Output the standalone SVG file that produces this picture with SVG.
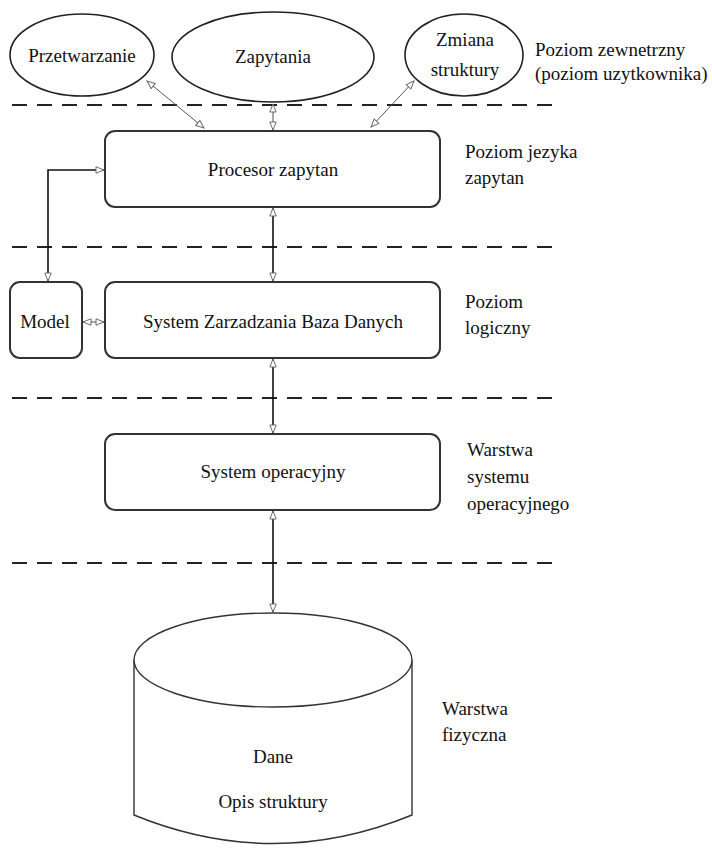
<svg xmlns="http://www.w3.org/2000/svg" width="712" height="852" viewBox="0 0 712 852" font-family="'Liberation Serif', 'DejaVu Serif', serif">
  <style>
    .shape { fill: #ffffff; stroke: #333333; stroke-width: 2; }
    .oval { fill: #ffffff; stroke: #222222; stroke-width: 1.6; }
    .thin { fill: #ffffff; stroke: #333333; stroke-width: 1.4; }
    .sep { stroke: #222222; stroke-width: 2; stroke-dasharray: 15 10; fill: none; }
    .conn { stroke: #111111; stroke-width: 1.6; fill: none; marker-start: url(#head); marker-end: url(#head); }
    .connthin { stroke: #555555; stroke-width: 1; fill: none; marker-start: url(#head); marker-end: url(#head); }
    text { font-family: 'Liberation Serif', 'DejaVu Serif', serif; font-size: 19px; fill: #111111; }
    .c { text-anchor: middle; }
  </style>
  <defs>
    <marker id="head" viewBox="0 0 10 10" refX="10" refY="5" markerWidth="10" markerHeight="8" markerUnits="userSpaceOnUse" orient="auto-start-reverse">
      <path d="M0,1 L10,5 L0,9 Z" fill="#ffffff" stroke="#666666" stroke-width="1.2"/>
    </marker>
  </defs>

  <!-- layer separators -->
  <g id="separators">
    <line class="sep" x1="12" y1="105" x2="553" y2="105"/>
    <line class="sep" x1="12" y1="247" x2="553" y2="247"/>
    <line class="sep" x1="12" y1="398" x2="553" y2="398"/>
    <line class="sep" x1="12" y1="563" x2="553" y2="563"/>
  </g>

  <!-- connectors -->
  <g id="connectors">
    <line class="connthin" x1="147" y1="81" x2="204" y2="128"/>
    <line class="connthin" x1="273" y1="104" x2="273" y2="130"/>
    <line class="connthin" x1="414" y1="81" x2="371" y2="127"/>
    <line class="conn" x1="273" y1="208" x2="273" y2="281"/>
    <line class="conn" x1="273" y1="359" x2="273" y2="433"/>
    <line class="conn" x1="273" y1="511" x2="273" y2="612"/>
    <polyline class="conn" points="48,281 48,170 104,170"/>
    <line class="connthin" x1="83" y1="322" x2="104" y2="322"/>
  </g>

  <!-- external level -->
  <g id="przetwarzanie">
    <ellipse class="oval" cx="82" cy="55" rx="72" ry="41"/>
    <text class="c" x="82" y="62">Przetwarzanie</text>
  </g>
  <g id="zapytania">
    <ellipse class="oval" cx="273" cy="57" rx="101" ry="45"/>
    <text class="c" x="273" y="63">Zapytania</text>
  </g>
  <g id="zmiana-struktury">
    <ellipse class="oval" cx="464" cy="55" rx="59" ry="41"/>
    <text class="c" x="465" y="46">Zmiana</text>
    <text class="c" x="465" y="76">struktury</text>
  </g>

  <g id="procesor">
    <rect class="shape" x="105" y="131" width="335" height="76" rx="10"/>
    <text class="c" x="273" y="176">Procesor zapytan</text>
  </g>
  <g id="szbd">
    <rect class="shape" x="105" y="282" width="335" height="76" rx="10"/>
    <text class="c" x="273" y="328">System Zarzadzania Baza Danych</text>
  </g>
  <g id="model">
    <rect class="shape" x="10" y="282" width="72" height="76" rx="10"/>
    <text class="c" x="45" y="328">Model</text>
  </g>
  <g id="system-operacyjny">
    <rect class="shape" x="105" y="434" width="335" height="76" rx="10"/>
    <text class="c" x="273" y="478">System operacyjny</text>
  </g>

  <g id="dane">
    <path class="thin" d="M134,660 L134,815 Q273,872 412,815 L412,660"/>
    <ellipse class="thin" cx="273" cy="660" rx="139" ry="47"/>
    <text class="c" x="273" y="763">Dane</text>
    <text class="c" x="273" y="808">Opis struktury</text>
  </g>

  <!-- level labels -->
  <g id="labels">
    <text x="535" y="56">Poziom zewnetrzny</text>
    <text x="535" y="80">(poziom uzytkownika)</text>
    <text x="465" y="158">Poziom jezyka</text>
    <text x="465" y="184">zapytan</text>
    <text x="465" y="308">Poziom</text>
    <text x="465" y="334">logiczny</text>
    <text x="467" y="456">Warstwa</text>
    <text x="467" y="483">systemu</text>
    <text x="467" y="510">operacyjnego</text>
    <text x="442" y="715">Warstwa</text>
    <text x="442" y="741">fizyczna</text>
  </g>
</svg>
